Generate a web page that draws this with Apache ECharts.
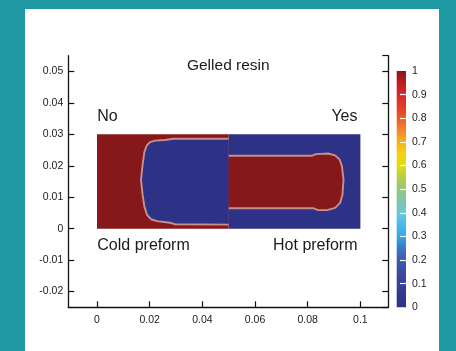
<!DOCTYPE html>
<html><head><meta charset="utf-8">
<script src="https://cdn.jsdelivr.net/npm/echarts@6/dist/echarts.min.js"></script>
<style>
html,body{margin:0;padding:0;background:#1f99a3;width:456px;height:351px;overflow:hidden}
#panel{position:absolute;left:25px;top:9px;width:414px;height:342px;background:#fff}
#chart{position:absolute;left:0;top:0;width:456px;height:351px}
</style></head><body>
<div id="panel"></div><div id="chart"></div>
<script>
// ---- axis ranges & ticks ----
const xRange = [-0.0109, 0.1106];
const yRange = [-0.025, 0.055];
const colorbarRange = [0, 1];
const colorbarTicks = [0.1, 0.2, 0.3, 0.4, 0.5, 0.6, 0.7, 0.8, 0.9];

// ---- colormap (value 0 -> 1) ----
const colormap = ['#2e3286','#33378c','#3a3f98','#3b4aa2','#3c5aae','#3b78c4','#39a6e4','#47bde9',
  '#6cc6d6','#7cc6a8','#94c77c','#b4d048','#dedd12','#f5d214','#f8ae1c','#f3872a','#ea5a28',
  '#e33a28','#d9272a','#bd1e22','#871819'];

// ---- field regions (x, y in m), gelled fraction values ----
const regionNames = ['Cold preform domain', 'Hot preform domain', 'Cold preform ungelled', 'Hot preform gelled'];
const regionValues = [1, 0, 0, 1];
const coldDomain = [[0, 0], [0.05, 0], [0.05, 0.03], [0, 0.03]];
const hotDomain = [[0.05, 0], [0.1, 0], [0.1, 0.03], [0.05, 0.03]];
const coldFront = [[0.05,0.0286],[0.0289,0.0286],[0.0258,0.0282],[0.0220,0.0280],[0.0201,0.0275],
  [0.0188,0.0263],[0.0180,0.0244],[0.0173,0.0203],[0.0167,0.0155],[0.0173,0.0108],[0.0180,0.0070],
  [0.0190,0.0044],[0.0205,0.0030],[0.0228,0.0024],[0.0277,0.0019],[0.0296,0.0014],[0.05,0.0013]];
const hotFront = [[0.05,0.0232],[0.0817,0.0232],[0.0832,0.0237],[0.0877,0.0239],[0.0904,0.0233],
  [0.0921,0.0220],[0.0930,0.0199],[0.0936,0.0155],[0.0932,0.0108],[0.0923,0.0082],[0.0904,0.0066],
  [0.0874,0.0059],[0.0839,0.0059],[0.0820,0.0065],[0.05,0.0065]];
const regionShapes = [coldDomain, hotDomain, coldFront, hotFront];
const regionHasContour = [false, false, true, true];

const colorbarValue = [1];

const FONT = "'Liberation Sans', Arial, Helvetica, sans-serif";
const TXT = '#1a1a1a';

const chart = echarts.init(document.getElementById('chart'), null, {renderer: 'canvas'});

const stops = colormap.map((c, i) => ({offset: i / (colormap.length - 1), color: c}));

chart.setOption({
  backgroundColor: 'transparent',
  animation: false,
  textStyle: {fontFamily: FONT},
  grid: [
    {left: 68.3, top: 55.7, width: 320, height: 251.6},
    {left: 396.7, top: 71, width: 9.3, height: 236.3}
  ],
  visualMap: {
    show: false, type: 'continuous', min: colorbarRange[0], max: colorbarRange[1],
    dimension: 0, seriesIndex: 0, inRange: {color: colormap}
  },
  xAxis: [
    {
      type: 'value', gridIndex: 0, min: xRange[0], max: xRange[1],
      splitNumber: 6, minInterval: 0.02, maxInterval: 0.02,
      axisLine: {show: true, onZero: false, lineStyle: {color: '#111', width: 1.3}},
      axisTick: {show: true, inside: true, length: 6, lineStyle: {color: '#111', width: 1.2}},
      axisLabel: {color: TXT, fontSize: 10.5, margin: 7, fontFamily: FONT, showMinLabel: false, showMaxLabel: false},
      splitLine: {show: false}
    },
    {type: 'category', gridIndex: 1, data: ['bar'], show: false}
  ],
  yAxis: [
    {
      type: 'value', gridIndex: 0, min: yRange[0], max: yRange[1],
      splitNumber: 8, minInterval: 0.01, maxInterval: 0.01,
      axisLine: {show: true, onZero: false, lineStyle: {color: '#111', width: 1.3}},
      axisTick: {show: true, inside: true, length: 6, lineStyle: {color: '#111', width: 1.2}},
      axisLabel: {color: TXT, fontSize: 10.5, margin: 5, fontFamily: FONT, showMinLabel: false, showMaxLabel: false},
      splitLine: {show: false}
    },
    {
      type: 'value', gridIndex: 0, position: 'right', min: yRange[0], max: yRange[1],
      splitNumber: 8, minInterval: 0.01, maxInterval: 0.01,
      axisLine: {show: true, onZero: false, lineStyle: {color: '#111', width: 1.3}},
      axisTick: {show: true, inside: true, length: 6, lineStyle: {color: '#111', width: 1.2}},
      axisLabel: {show: false},
      splitLine: {show: false}
    },
    {
      type: 'value', gridIndex: 1, position: 'right', min: colorbarRange[0], max: colorbarRange[1],
      splitNumber: 10, z: 5,
      axisLine: {show: false},
      axisTick: {show: true, inside: true, length: 6, customValues: colorbarTicks, lineStyle: {color: '#fff', width: 1.2}},
      axisLabel: {color: TXT, fontSize: 10.5, margin: 6, fontFamily: FONT},
      splitLine: {show: false}
    }
  ],
  series: [
    {
      type: 'custom', xAxisIndex: 0, yAxisIndex: 0, silent: true,
      data: regionValues.map((v, i) => [v, i]),
      dimensions: ['value', 'region'],
      renderItem: function (params, api) {
        const idx = api.value(1);
        const pts = regionShapes[idx].map(p => api.coord(p));
        const color = api.visual('color');
        const children = [{type: 'polygon', shape: {points: pts}, style: {fill: color}}];
        if (regionHasContour[idx]) {
          children.push({type: 'polyline', shape: {points: pts},
            style: {stroke: '#c88f8c', lineWidth: 1.9, fill: null, lineJoin: 'round'}});
        }
        return {type: 'group', children: children};
      }
    },
    {
      type: 'bar', xAxisIndex: 1, yAxisIndex: 2, silent: true,
      data: colorbarValue, barWidth: '100%',
      itemStyle: {color: {type: 'linear', x: 0, y: 1, x2: 0, y2: 0, colorStops: stops}}
    }
  ],
  graphic: [
    {type: 'text', style: {text: 'Gelled resin', x: 228.3, y: 65.7, font: "15.5px " + FONT, fill: TXT, align: 'center', verticalAlign: 'middle'}},
    {type: 'text', style: {text: 'No', x: 97.3, y: 116.7, font: "16px " + FONT, fill: TXT, align: 'left', verticalAlign: 'middle'}},
    {type: 'text', style: {text: 'Yes', x: 357.5, y: 116.7, font: "16px " + FONT, fill: TXT, align: 'right', verticalAlign: 'middle'}},
    {type: 'text', style: {text: 'Cold preform', x: 97.3, y: 246, font: "16px " + FONT, fill: TXT, align: 'left', verticalAlign: 'middle'}},
    {type: 'text', style: {text: 'Hot preform', x: 357.5, y: 246, font: "16px " + FONT, fill: TXT, align: 'right', verticalAlign: 'middle'}}
  ]
});
</script>
</body></html>
